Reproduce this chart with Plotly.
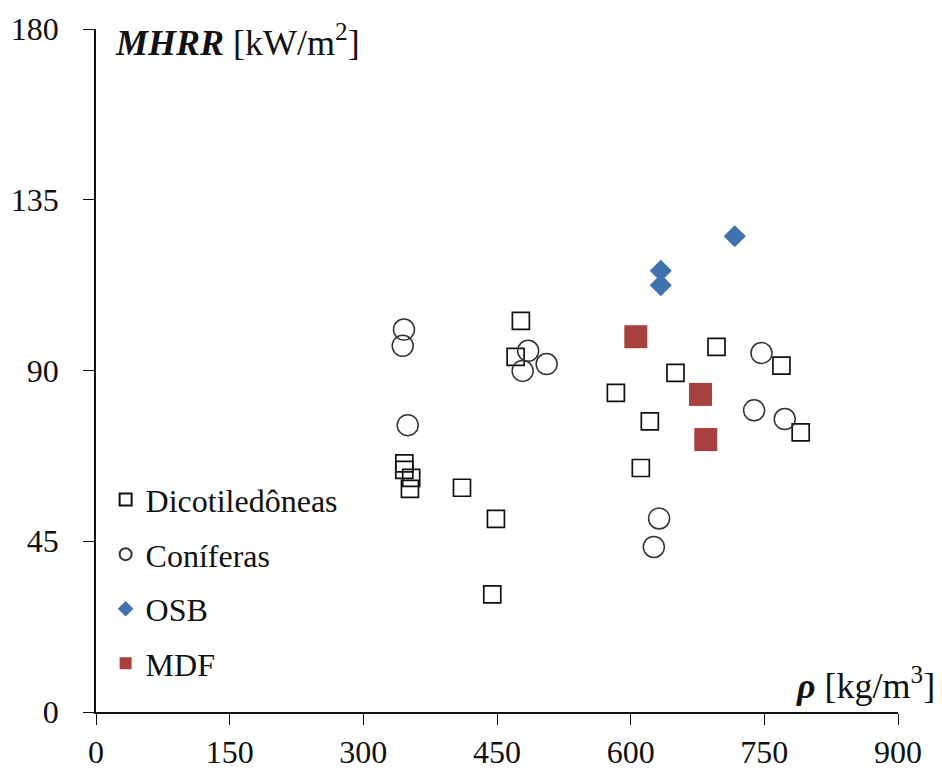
import plotly.graph_objects as go

# Density (kg/m3) and maximum heat release rate (kW/m2) per material group
dicot_rho = [476.8, 470.9, 346.0, 346.0, 353.7, 352.3, 410.7, 448.8, 444.7,
             696.3, 650.3, 583.4, 621.5, 611.4, 769.2, 790.8]
dicot_mhrr = [103.1, 93.6, 65.5, 63.8, 61.7, 58.8, 59.1, 50.9, 31.0,
              96.2, 89.4, 84.1, 76.6, 64.3, 91.3, 73.7]

conif_rho = [345.6, 344.2, 349.8, 485.0, 478.8, 505.7, 746.8, 738.5, 772.9, 631.9, 626.0]
conif_mhrr = [100.8, 96.5, 75.6, 95.2, 89.9, 91.7, 94.6, 79.5, 77.2, 51.0, 43.5]

osb_rho = [716.8, 633.8, 633.8]
osb_mhrr = [125.4, 116.3, 112.5]

mdf_rho = [605.8, 678.4, 684.3]
mdf_mhrr = [98.9, 83.7, 71.8]

x_ticks = [0, 150, 300, 450, 600, 750, 900]
y_ticks = [0, 45, 90, 135, 180]

FONT = "Liberation Serif, Times New Roman, serif"

fig = go.Figure()

fig.add_trace(go.Scatter(
    x=dicot_rho, y=dicot_mhrr, mode="markers", name="Dicotiledôneas",
    legendgroup="a",
    marker=dict(symbol="square-open", size=17, color="#111111",
                line=dict(width=1.7, color="#111111")),
))
fig.add_trace(go.Scatter(
    x=conif_rho, y=conif_mhrr, mode="markers", name="Coníferas",
    legendgroup="b",
    marker=dict(symbol="circle-open", size=21, color="#333333",
                line=dict(width=1.5, color="#333333")),
))
fig.add_trace(go.Scatter(
    x=osb_rho, y=osb_mhrr, mode="markers", name="OSB",
    legendgroup="c",
    marker=dict(symbol="diamond", size=17, color="#3F72AF",
                line=dict(width=0)),
))
fig.add_trace(go.Scatter(
    x=mdf_rho, y=mdf_mhrr, mode="markers", name="MDF",
    legendgroup="d",
    marker=dict(symbol="square", size=23, color="#A8403E",
                line=dict(width=0)),
))

axis_common = dict(
    showgrid=False, zeroline=False, showline=True, linecolor="#111111",
    linewidth=1.6, ticks="outside", ticklen=11, tickwidth=1.4,
    tickcolor="#111111", mirror=False, automargin=False,
    tickfont=dict(family=FONT, size=32, color="#111111"),
)

fig.update_xaxes(range=[0, 900], tickvals=x_ticks,
                 ticktext=[str(v) for v in x_ticks], **axis_common)
fig.update_yaxes(range=[0, 180], tickvals=y_ticks,
                 ticktext=[str(v) for v in y_ticks], ticklabelstandoff=18,
                 **axis_common)

fig.add_annotation(
    xref="paper", yref="paper", x=0.021, y=0.983, xanchor="left", yanchor="middle",
    text="<b><i>MHRR</i></b> [kW/m<sup>2</sup>]", showarrow=False,
    font=dict(family=FONT, size=36, color="#111111"),
)
fig.add_annotation(
    xref="paper", yref="paper", x=1.049, y=0.042, xanchor="right", yanchor="middle",
    text="<b><i>ρ</i></b> [kg/m<sup>3</sup>]", showarrow=False,
    font=dict(family=FONT, size=36, color="#111111"),
)

fig.update_layout(
    width=942, height=775,
    margin=dict(l=96, r=44, t=29, b=63),
    paper_bgcolor="white", plot_bgcolor="white",
    font=dict(family=FONT, size=32, color="#111111"),
    showlegend=True,
    legend=dict(
        x=0.012, y=0.351, xanchor="left", yanchor="top",
        bgcolor="rgba(0,0,0,0)", itemsizing="constant",
        tracegroupgap=10,
        font=dict(family=FONT, size=32, color="#111111"),
    ),
)

fig.write_html("out.html", config={"displayModeBar": False})
